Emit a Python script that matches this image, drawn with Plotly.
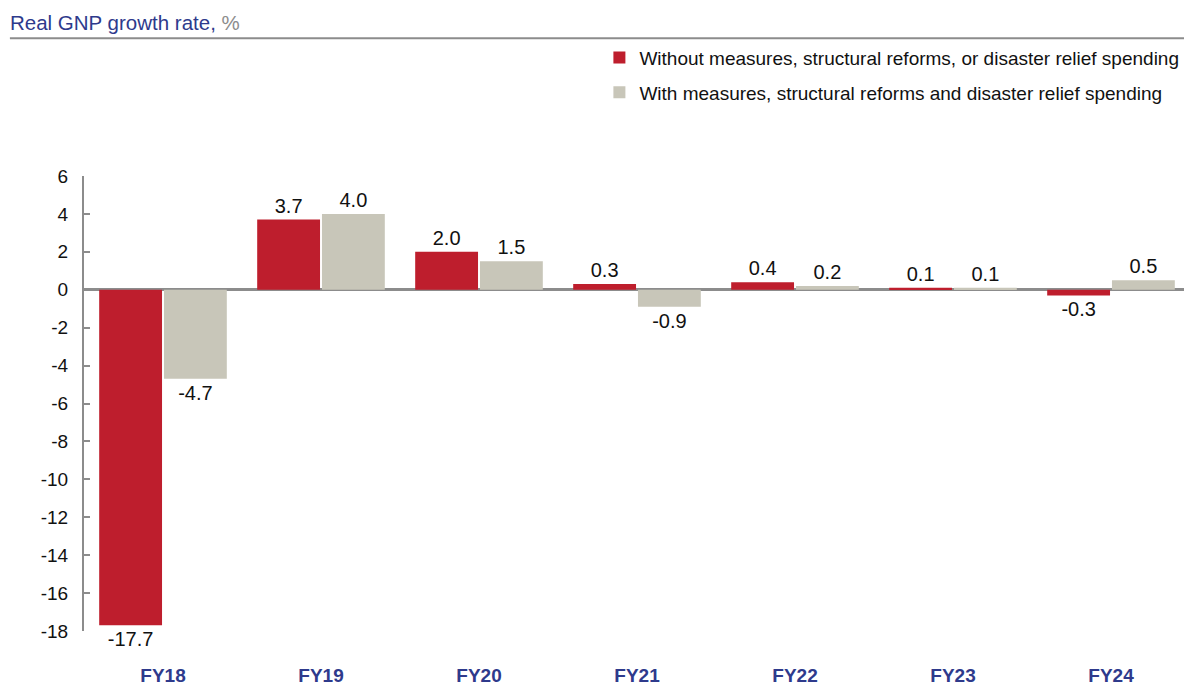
import plotly.graph_objects as go

years = ['FY18', 'FY19', 'FY20', 'FY21', 'FY22', 'FY23', 'FY24']
without_measures = [-17.7, 3.7, 2.0, 0.3, 0.4, 0.1, -0.3]
with_measures = [-4.7, 4.0, 1.5, -0.9, 0.2, 0.1, 0.5]
y_ticks = [6, 4, 2, 0, -2, -4, -6, -8, -10, -12, -14, -16, -18]

red = '#BE1E2D'
grey = '#C8C6B9'
font_family = 'Liberation Sans, Arial, sans-serif'

fig = go.Figure()
fig.add_trace(go.Bar(
    x=years, y=without_measures, name='Without measures, structural reforms, or disaster relief spending',
    marker=dict(color=red, line_width=0), legendgroup='a',
    text=[f'{v:.1f}' for v in without_measures], textposition='outside',
    textfont=dict(size=20, color='#111111'), cliponaxis=False,
))
fig.add_trace(go.Bar(
    x=years, y=with_measures, name='With measures, structural reforms and disaster relief spending',
    marker=dict(color=grey, line_width=0), legendgroup='b',
    text=[f'{v:.1f}' for v in with_measures], textposition='outside',
    textfont=dict(size=20, color='#111111'), cliponaxis=False,
))

# title with underline
fig.add_annotation(
    text='<span style="color:#2E3A8C">Real GNP growth rate,</span> <span style="color:#8C8C8C">%</span>',
    xref='paper', yref='paper', x=-0.069, y=1.338, xanchor='left', yanchor='middle',
    showarrow=False, font=dict(size=20.5, family=font_family),
)
fig.add_shape(type='line', xref='paper', yref='paper', x0=-0.067, x1=1.01, y0=1.303, y1=1.303,
              line=dict(color='#8C8C8C', width=2))

# page body has an 8px margin, so the figure is drawn 8px smaller
fig.update_layout(
    width=1184, height=678,
    margin=dict(l=76, r=2, t=168, b=55, autoexpand=False),
    paper_bgcolor='white', plot_bgcolor='white',
    font=dict(family=font_family, size=18, color='#111111'),
    barmode='group', bargap=0.18, bargroupgap=0.03,
    showlegend=True,
    legend=dict(
        x=0.466, y=1.302, xanchor='left', yanchor='top',
        font=dict(size=19, color='#111111'),
        tracegroupgap=7, bgcolor='rgba(0,0,0,0)',
    ),
    xaxis=dict(
        showline=False, ticks='', showgrid=False,
        tickfont=dict(size=19, color='#2E3A8C'),
        tickvals=years, ticktext=[f'<b>{y}</b>' for y in years],
        ticklabelstandoff=31,
    ),
    yaxis=dict(
        range=[-18, 6], tickvals=y_ticks, ticktext=[str(v) for v in y_ticks], showgrid=False,
        showline=True, linecolor='#8C8C8C', linewidth=2,
        ticks='inside', ticklen=6, tickcolor='#8C8C8C', tickwidth=2,
        ticklabelstandoff=10,
        zeroline=True, zerolinecolor='#8C8C8C', zerolinewidth=3,
        tickfont=dict(size=19, color='#111111'),
    ),
)

fig.write_html('out.html')
